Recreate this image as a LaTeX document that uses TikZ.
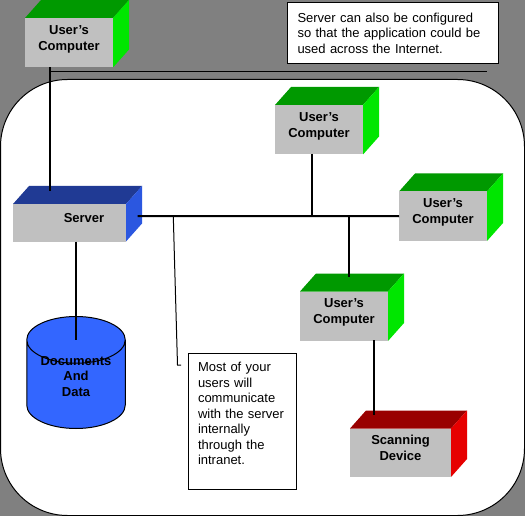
\documentclass[tikz,border=0pt]{standalone}
\usepackage{fontspec}
\setmainfont{Liberation Sans}
\usepackage{xcolor}
\usetikzlibrary{positioning, shapes.geometric}

\definecolor{backgray}{HTML}{808080}
\definecolor{facegray}{HTML}{C0C0C0}
\definecolor{greentop}{HTML}{009900}
\definecolor{greenside}{HTML}{00E600}
\definecolor{bluetop}{HTML}{203A94}
\definecolor{blueside}{HTML}{2B57E0}
\definecolor{redtop}{HTML}{990000}
\definecolor{redside}{HTML}{E60000}
\definecolor{dbblue}{HTML}{3366FF}

\tikzset{
    box/.style n args={3}{
        fill=facegray, inner sep=0pt, outer sep=0pt, align=center, text depth=10pt,
        font=\bfseries\fontsize{13}{16}\selectfont,
        append after command={\pgfextra{
            \fill[#1] (\tikzlastnode.north west) -- ++(16,-18)
                -- ([xshift=16pt,yshift=18pt]\tikzlastnode.north east)
                -- (\tikzlastnode.north east) -- cycle;
            \fill[#2] (\tikzlastnode.north east) -- ++(16,-18)
                -- ([xshift=16pt,yshift=18pt]\tikzlastnode.south east)
                -- (\tikzlastnode.south east) -- cycle;
            \draw[#3, line width=1pt] ([yshift=.5pt]\tikzlastnode.south west)
                -- ([yshift=.5pt]\tikzlastnode.south east);
        }}
    },
    computer/.style={box={greentop}{greenside}{greentop}, minimum width=88pt, minimum height=49.5pt},
    note/.style={draw, fill=white, line width=1pt, inner sep=0pt, align=left,
        font=\fontsize{13}{15.5}\selectfont},
    link/.style={line width=2pt},
    thinlink/.style={line width=1pt}
}

\begin{document}
\begin{tikzpicture}[x=1pt, y=-1pt, node distance=36pt]
    \useasboundingbox (0,0) rectangle (525,516);
    \fill[backgray] (0,0) rectangle (525,516);
    \node[draw, fill=white, line width=1pt, rounded corners=67pt, minimum width=524pt, minimum height=436pt] (panel) at (262.5,297.5) {};

    \node[computer] (comp1) at (69,42.75) {User’s\\Computer};
    \node[computer] (comp2) [below right=37.5pt and 162pt of comp1] {User’s\\Computer};
    \node[computer] (comp3) [below right=37pt and 36pt of comp2] {User’s\\Computer};
    \node[computer] (comp4) [below left=50.5pt and 11pt of comp3] {User’s\\Computer};

    \node[box={bluetop}{blueside}{blueside}, minimum width=113pt, minimum height=37.5pt] (server)
        [below left=136.5pt and -101pt of comp1] {\hspace*{29pt}Server};
    \node[box={redtop}{redside}{redtop}, minimum width=101pt, minimum height=48.5pt] (scanner)
        [below right=87.5pt and -38pt of comp4] {Scanning\\Device};

    \node[cylinder, shape border rotate=90, aspect=0.66, draw, fill=dbblue, line width=1pt, inner sep=0pt,
        minimum width=98.5pt, minimum height=112pt, align=center,
        font=\bfseries\fontsize{13}{15.5}\selectfont] (db)
        [below=74.5pt of server, xshift=6.5pt] {\phantom{Documents}\\\phantom{And}\\\phantom{Data}};
    \node[align=center, inner sep=0pt, font=\bfseries\fontsize{13}{15.5}\selectfont] (dblabel)
        [below=40pt of db.north] {Documents\\And\\Data};

    \node[note, minimum width=211pt, minimum height=61pt, text width=191pt] (note1)
        [right=174pt of comp1, yshift=9.75pt] {Server can also be configured\\so that the application could be\\used across the Internet.};
    \node[note, minimum width=108pt, minimum height=135.5pt, text width=88pt] (note2)
        [below left=12pt and 3.5pt of comp4] {Most of your\\users will\\communicate\\with the server\\internally\\through the\\intranet.\\~};

    \coordinate (inetend) at (487,71.5);
    \coordinate (noteend) at (181,365);
    \coordinate (bushook) at (173.3,216);

    \path[link]
    ([xshift=25pt]comp1.south west) edge ([xshift=37pt,yshift=13pt]server.north west)
    ([xshift=11.5pt,yshift=-12pt]server.north east) edge (comp3.west)
    ([xshift=37pt,yshift=.5pt]comp2.south west) edge ([xshift=37pt,yshift=-61.5pt]comp2.south west)
    ([xshift=49pt,yshift=75.5pt]comp4.north west) edge ([xshift=49pt,yshift=14.5pt]comp4.north west)
    ([xshift=74pt,yshift=1pt]comp4.south west) edge ([xshift=24pt,yshift=14pt]scanner.north west)
    (server.south -| db.north) edge ([yshift=-24pt]db.north);

    \draw[thinlink] ([xshift=25pt,yshift=-4pt]comp1.south west) -- (inetend);
    \draw[thinlink] (bushook) -- (174.5,260) -- (177.5,365) -- (noteend);
\end{tikzpicture}
\end{document}
